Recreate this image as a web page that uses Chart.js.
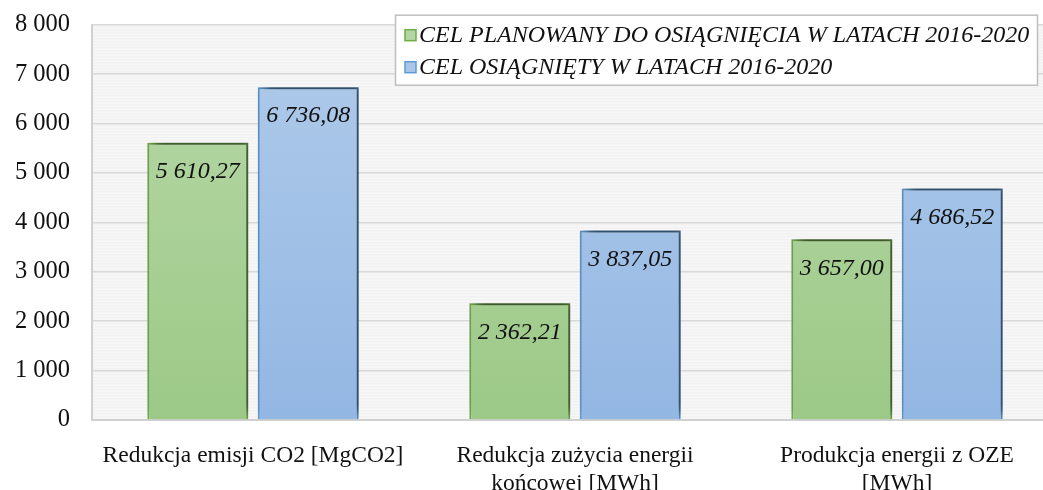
<!DOCTYPE html>
<html lang="pl">
<head>
<meta charset="utf-8">
<script src="https://cdn.jsdelivr.net/npm/chart.js@4.4.1/dist/chart.umd.min.js"></script>
<style>
  html, body { margin: 0; padding: 0; background: #fff; overflow: hidden; }
  #wrap { width: 1061px; height: 502px; position: relative; top: -12px; }
</style>
</head>
<body>
<div id="wrap"><canvas id="chart"></canvas></div>
<script>
// ── data ────────────────────────────────────────────────
const categories = [
  ['Redukcja emisji CO2 [MgCO2]'],
  ['Redukcja zużycia energii', 'końcowej [MWh]'],
  ['Produkcja energii z OZE', '[MWh]'],
];
const seriesNames = [
  'CEL PLANOWANY DO OSIĄGNIĘCIA W LATACH 2016-2020',
  'CEL OSIĄGNIĘTY W LATACH 2016-2020',
];
const planned = [5610.27, 2362.21, 3657.00];
const achieved = [6736.08, 3837.05, 4686.52];
const yTicks = [0, 1000, 2000, 3000, 4000, 5000, 6000, 7000, 8000];

const SERIF = '"Liberation Serif", "DejaVu Serif", serif';

// number format: "5 610,27"
function fmtPl(v, dec) {
  const s = v.toFixed(dec).split('.');
  const int = s[0].replace(/\B(?=(\d{3})+(?!\d))/g, ' ');
  return dec ? int + ',' + s[1] : int;
}

function vGrad(ctx, area, top, bottom) {
  if (!area) return top;
  const g = ctx.createLinearGradient(0, area.top, 0, area.bottom);
  g.addColorStop(0, top);
  g.addColorStop(1, bottom);
  return g;
}

// striped grey plot background
const plotBg = {
  id: 'plotBg',
  beforeDraw(chart) {
    const { ctx, chartArea: a } = chart;
    ctx.save();
    ctx.fillStyle = '#f2f2f2';
    ctx.fillRect(a.left, a.top, a.right - a.left, a.bottom - a.top);
    ctx.fillStyle = 'rgba(255,255,255,0.6)';
    for (let y = a.top; y < a.bottom; y += 3) ctx.fillRect(a.left, y, a.right - a.left, 1);
    ctx.restore();
  }
};

// soft shadow behind bars
const barShadow = {
  id: 'barShadow',
  beforeDatasetDraw(chart) {
    const ctx = chart.ctx;
    ctx.save();
    ctx.shadowColor = 'rgba(0,0,0,0.6)';
    ctx.shadowBlur = 10;
    ctx.shadowOffsetX = 5;
    ctx.shadowOffsetY = -5;
  },
  afterDatasetDraw(chart) {
    chart.ctx.restore();
  }
};

// value labels inside top of bars
const valueLabels = {
  id: 'valueLabels',
  afterDatasetsDraw(chart) {
    const ctx = chart.ctx;
    ctx.save();
    ctx.font = 'italic 24px ' + SERIF;
    ctx.fillStyle = '#111';
    ctx.textAlign = 'center';
    ctx.textBaseline = 'middle';
    chart.data.datasets.forEach((ds, i) => {
      chart.getDatasetMeta(i).data.forEach((bar, j) => {
        ctx.fillText(fmtPl(ds.data[j], 2), bar.x, bar.y + 29);
      });
    });
    ctx.restore();
  }
};

// boxed legend in the upper right corner
const boxLegend = {
  id: 'boxLegend',
  afterDraw(chart) {
    const ctx = chart.ctx;
    const x = 395, y = chart.chartArea.top - 10, w = 642, h = 70;
    ctx.save();
    ctx.fillStyle = '#fff';
    ctx.fillRect(x, y, w, h);
    ctx.strokeStyle = '#bfbfbf';
    ctx.lineWidth = 1.5;
    ctx.strokeRect(x + 0.5, y + 0.5, w, h);
    const marks = [['#b3d6a3', '#70ad47'], ['#a9c5e8', '#5b9bd5']];
    ctx.font = 'italic 24px ' + SERIF;
    ctx.textBaseline = 'middle';
    seriesNames.forEach((name, i) => {
      const cy = y + 21 + i * 32;
      ctx.fillStyle = marks[i][0];
      ctx.fillRect(405, cy - 6, 11, 11);
      ctx.strokeStyle = marks[i][1];
      ctx.lineWidth = 1.5;
      ctx.strokeRect(405, cy - 6, 11, 11);
      ctx.fillStyle = '#111';
      ctx.fillText(name, 419, cy);
    });
    ctx.restore();
  }
};

new Chart(document.getElementById('chart'), {
  type: 'bar',
  data: {
    labels: categories,
    datasets: [
      {
        label: seriesNames[0],
        data: planned,
        backgroundColor: c => vGrad(c.chart.ctx, c.chart.chartArea, '#b8d8a8', '#9cc987'),
        borderColor: '#72b04a',
        borderWidth: 2,
      },
      {
        label: seriesNames[1],
        data: achieved,
        backgroundColor: c => vGrad(c.chart.ctx, c.chart.chartArea, '#b0cbea', '#93b7e3'),
        borderColor: '#5b9bd5',
        borderWidth: 2,
      }
    ]
  },
  options: {
    responsive: true,
    maintainAspectRatio: false,
    animation: false,
    categoryPercentage: 0.686,
    barPercentage: 0.914,
    layout: { padding: { top: 3, right: 3, left: 0, bottom: 0 } },
    plugins: {
      legend: { display: false },
      tooltip: { enabled: false },
    },
    scales: {
      x: {
        grid: { display: false, drawTicks: false },
        border: { color: '#d0d0d0', width: 2 },
        ticks: { color: '#111', font: { family: SERIF, size: 23.5 }, padding: 22, maxRotation: 0, autoSkip: false },
        afterFit: s => { s.height = 70; },
      },
      y: {
        min: 0, max: 8000,
        afterBuildTicks: s => { s.ticks = yTicks.map(v => ({ value: v })); },
        grid: { color: '#d9d9d9', lineWidth: 1.5, drawTicks: false },
        border: { color: '#d0d0d0', width: 2 },
        ticks: { color: '#111', font: { family: SERIF, size: 24.5 }, padding: 22, callback: v => fmtPl(v, 0) },
        afterFit: s => { s.width = 92; },
      }
    }
  },
  plugins: [plotBg, barShadow, valueLabels, boxLegend]
});
</script>
</body>
</html>
